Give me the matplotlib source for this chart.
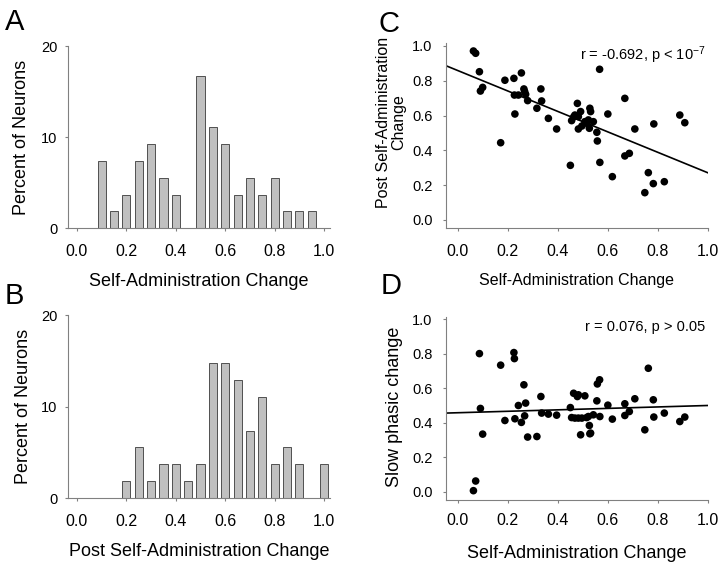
#!/usr/bin/env python3
"""Recreate the four-panel neuron change figure (histograms A/B, scatters C/D)."""
import numpy as np
import matplotlib
matplotlib.use("Agg")
import matplotlib.pyplot as plt

# ── data ─────────────────────────────────────────────────────────
a_bins = [0.10, 0.15, 0.20, 0.25, 0.30, 0.35, 0.40, 0.45, 0.50, 0.55,
          0.60, 0.65, 0.70, 0.75, 0.80, 0.85, 0.90, 0.95]
a_pct = [7.4, 1.85, 3.7, 7.4, 9.26, 5.56, 3.7, 0, 16.67, 11.1,
         9.26, 3.7, 5.56, 3.7, 5.56, 1.85, 1.85, 1.85]

b_bins = [0.20, 0.25, 0.30, 0.35, 0.40, 0.45, 0.50, 0.55, 0.60, 0.65,
          0.70, 0.75, 0.80, 0.85, 0.90, 0.95, 1.00]
b_pct = [1.85, 5.56, 1.85, 3.7, 3.7, 1.85, 3.7, 14.8, 14.8, 12.96,
         7.4, 11.1, 3.7, 5.56, 3.7, 0, 3.7]

# per neuron: self-admin change, post self-admin change, slow phasic change
sa_change = [0.063, 0.072, 0.087, 0.091, 0.100, 0.172, 0.189, 0.225, 0.227, 0.229,
             0.243, 0.255, 0.265, 0.268, 0.272, 0.280, 0.317, 0.333, 0.336, 0.363,
             0.396, 0.451, 0.456, 0.464, 0.479, 0.483, 0.483, 0.492, 0.497, 0.509,
             0.516, 0.523, 0.527, 0.529, 0.532, 0.543, 0.557, 0.559, 0.568, 0.569,
             0.601, 0.619, 0.669, 0.669, 0.687, 0.709, 0.749, 0.763, 0.783, 0.785,
             0.827, 0.889, 0.909, 0.469]
post_change = [0.971, 0.958, 0.852, 0.741, 0.762, 0.444, 0.803, 0.814, 0.718, 0.609,
               0.718, 0.845, 0.753, 0.738, 0.722, 0.686, 0.642, 0.753, 0.684, 0.584,
               0.523, 0.314, 0.571, 0.592, 0.670, 0.594, 0.523, 0.623, 0.540, 0.565,
               0.556, 0.575, 0.527, 0.642, 0.623, 0.565, 0.504, 0.454, 0.866, 0.331,
               0.609, 0.249, 0.699, 0.368, 0.383, 0.523, 0.157, 0.272, 0.209, 0.552,
               0.220, 0.603, 0.559, 0.603]
slow_change = [0.006, 0.062, 0.801, 0.483, 0.334, 0.734, 0.413, 0.807, 0.772, 0.423,
               0.500, 0.402, 0.620, 0.440, 0.514, 0.317, 0.320, 0.552, 0.456, 0.450,
               0.444, 0.488, 0.430, 0.571, 0.552, 0.427, 0.562, 0.330, 0.427, 0.556,
               0.430, 0.436, 0.384, 0.336, 0.340, 0.446, 0.527, 0.625, 0.649, 0.436,
               0.502, 0.421, 0.442, 0.510, 0.465, 0.539, 0.359, 0.716, 0.533, 0.433,
               0.456, 0.407, 0.433, 0.427]

# regression lines as drawn (intercept, slope)
fit_c = (0.859, -0.587)
fit_d = (0.458, 0.042)

ARIAL = ["Liberation Sans", "DejaVu Sans"]
plt.rcParams["font.family"] = ARIAL
plt.rcParams["mathtext.fontset"] = "custom"
plt.rcParams["mathtext.rm"] = "Liberation Sans"
plt.rcParams["mathtext.default"] = "rm"

GREY = "#808080"

fig = plt.figure(figsize=(7.24, 5.69), dpi=100)
axA = fig.add_axes([0.0939, 0.5987, 0.362, 0.3204])
axB = fig.add_axes([0.0939, 0.1242, 0.362, 0.3220])
axC = fig.add_axes([0.6156, 0.5987, 0.3627, 0.3251])
axD = fig.add_axes([0.6156, 0.1213, 0.3627, 0.3221])


def style(ax, xfs, yfs, xpad, ypad):
    for s in ("top", "right"):
        ax.spines[s].set_visible(False)
    for s in ("left", "bottom"):
        ax.spines[s].set_color(GREY)
        ax.spines[s].set_linewidth(0.8)
    ax.tick_params(direction="out", length=2.5, width=0.8, color=GREY)
    ax.tick_params(axis="x", pad=xpad, labelsize=xfs)
    ax.tick_params(axis="y", pad=ypad, labelsize=yfs)


# ── A / B histograms ─────────────────────────────────────────────
for ax, bins, pct, xlab, ylx in ((axA, a_bins, a_pct, "Self-Administration Change", -0.145),
                                 (axB, b_bins, b_pct, "Post Self-Administration Change", -0.137)):
    ax.bar(bins, pct, width=0.033, color="#c0c0c0", edgecolor="#505050", linewidth=0.7)
    ax.set_xlim(-0.036, 1.024)
    ax.set_ylim(0, 20)
    ax.set_xticks(np.arange(0, 1.01, 0.2))
    ax.set_xticklabels([f"{v:.1f}" for v in np.arange(0, 1.01, 0.2)])
    ax.set_yticks([0, 10, 20])
    style(ax, 11.5, 10.5, 9, 5)
    ax.set_xlabel(xlab, fontsize=13)
    ax.set_ylabel("Percent of Neurons", fontsize=13)
    ax.xaxis.set_label_coords(0.5, -0.245)
    ax.yaxis.set_label_coords(ylx, 0.5)

# ── C / D scatters ───────────────────────────────────────────────
xs = np.array([-0.048, 1.0])
for ax, yvals, fit, txt, ty in ((axC, post_change, fit_c, r"r = -0.692, p < 10$^{-7}$", 0.937),
                                (axD, slow_change, fit_d, "r = 0.076, p > 0.05", 0.945)):
    ax.scatter(sa_change, yvals, s=30, color="black", edgecolors="none", zorder=3)
    ax.plot(xs, fit[0] + fit[1] * xs, color="black", linewidth=1.2)
    ax.set_xlim(-0.048, 1.003)
    ax.set_ylim(-0.048, 1.015)
    ax.set_xticks(np.arange(0, 1.01, 0.2))
    ax.set_xticklabels([f"{v:.1f}" for v in np.arange(0, 1.01, 0.2)])
    ax.set_yticks(np.arange(0, 1.01, 0.2))
    ax.set_yticklabels([f"{v:.1f}" for v in np.arange(0, 1.01, 0.2)])
    ax.text(0.99, ty, txt, transform=ax.transAxes, ha="right", va="center",
            fontsize=10.5)

style(axC, 11.5, 10.5, 9, 7)
style(axD, 11.5, 10.5, 7, 7)
axC.set_xlabel("Self-Administration Change", fontsize=11.5)
axC.set_ylabel("Post Self-Administration\nChange", fontsize=11.5,
               multialignment="center", linespacing=1.05)
axC.xaxis.set_label_coords(0.5, -0.242)
axC.yaxis.set_label_coords(-0.15, 0.572)
axD.set_xlabel("Self-Administration Change", fontsize=13)
axD.set_ylabel("Slow phasic change", fontsize=13)
axD.xaxis.set_label_coords(0.5, -0.245)
axD.yaxis.set_label_coords(-0.161, 0.509)

# panel letters
for letter, x, y in (("A", 5, 8), ("B", 5, 282), ("C", 379, 10), ("D", 381, 272)):
    fig.text(x / 724, 1 - y / 569, letter, fontsize=21, ha="left", va="top")

fig.savefig("out.png", dpi=100)
